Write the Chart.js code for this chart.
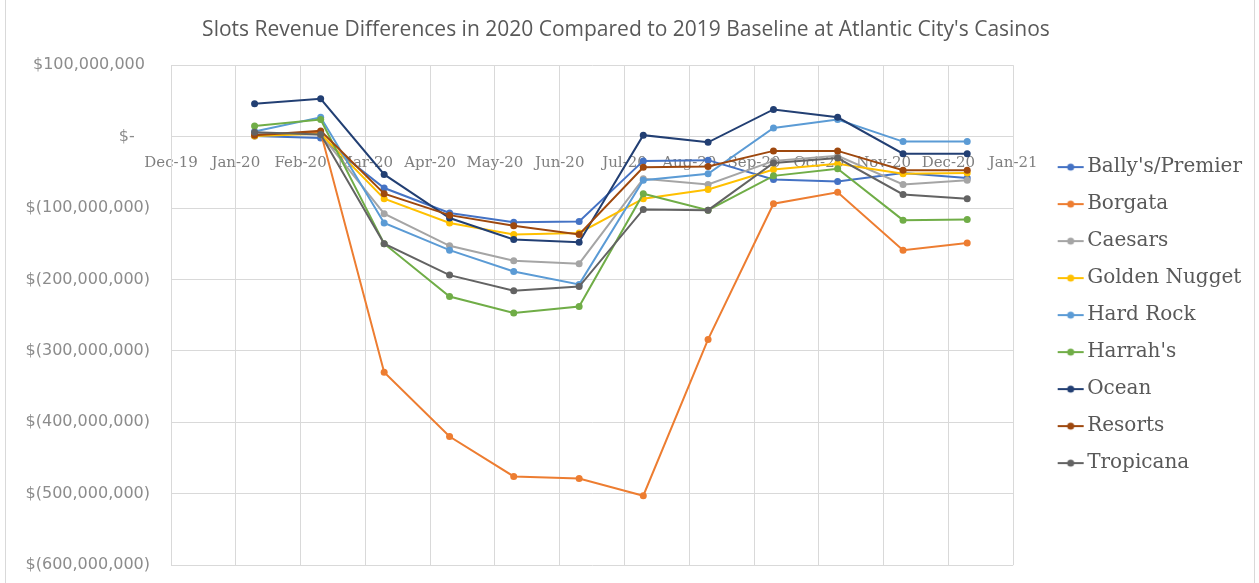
<!DOCTYPE html>
<html>
<head>
<meta charset="utf-8">
<title>Slots Revenue Differences 2020 vs 2019</title>
<script src="https://cdn.jsdelivr.net/npm/chart.js@4/dist/chart.umd.min.js"></script>
<style>
  html, body { margin: 0; padding: 0; background: #fff; overflow: hidden; }
  .wrap { position: relative; width: 1259px; height: 583px; }
  .frame { position: absolute; left: 5px; top: -1px; width: 1250px; height: 585px; border: 1px solid #d9d9d9; box-sizing: border-box; pointer-events: none; }
</style>
</head>
<body>
<div class="wrap">
  <canvas id="chart" width="1259" height="583"></canvas>
  <div class="frame"></div>
</div>
<script>
/* ============================================================
 * Slots revenue differences, 2020 vs 2019 baseline
 * ============================================================ */

// x axis month ticks (Dec-19 .. Jan-21)
const monthLabels = ['Dec-19', 'Jan-20', 'Feb-20', 'Mar-20', 'Apr-20', 'May-20', 'Jun-20',
                     'Jul-20', 'Aug-20', 'Sep-20', 'Oct-20', 'Nov-20', 'Dec-20', 'Jan-21'];
const pointDates = ['2020-01-10', '2020-02-10', '2020-03-10', '2020-04-10', '2020-05-10', '2020-06-10',
                    '2020-07-10', '2020-08-10', '2020-09-10', '2020-10-10', '2020-11-10', '2020-12-10'];

// values in $ millions
const ballys       = [1, -2, -72, -107, -120, -119, -34, -33, -60, -63, -51, -58];
const borgata      = [2, 6, -330, -420, -476, -479, -503, -284, -94, -78, -159, -149];
const caesars      = [5, 3, -108, -153, -174, -178, -59, -67, -34, -27, -67, -61];
const goldenNugget = [1, 4, -87, -121, -137, -135, -87, -74, -46, -38, -52, -51];
const hardRock     = [7, 27, -121, -159, -189, -207, -61, -52, 12, 24, -7, -7];
const harrahs      = [15, 24, -150, -224, -247, -238, -80, -103, -55, -45, -117, -116];
const ocean        = [46, 53, -53, -114, -144, -148, 2, -8, 38, 27, -24, -24];
const resorts      = [2, 8, -80, -110, -125, -137, -43, -42, -20, -20, -47, -47];
const tropicana    = [6, 3, -150, -194, -216, -210, -102, -103, -37, -30, -81, -87];

const seriesNames = ["Bally's/Premier", 'Borgata', 'Caesars', 'Golden Nugget', 'Hard Rock',
                     "Harrah's", 'Ocean', 'Resorts', 'Tropicana'];
const seriesValues = [ballys, borgata, caesars, goldenNugget, hardRock, harrahs, ocean, resorts, tropicana];
const seriesColors = ['#4472C4', '#ED7D31', '#A5A5A5', '#FFC000', '#5B9BD5',
                      '#70AD47', '#223F73', '#9E480E', '#636363'];

const yTicks = { min: -600, max: 100, step: 100 };

// months since 1 Dec 2019, fractional by day
function monthPos(iso) {
  const [y, m, d] = iso.split('-').map(Number);
  const days = new Date(y, m, 0).getDate();
  return (y - 2019) * 12 + (m - 12) + (d - 1) / days;
}

function money(v) {
  if (v === 0) return '$-   ';
  const s = Math.abs(v * 1e6).toLocaleString('en-US');
  return v < 0 ? '$(' + s + ')' : '$' + s + ' ';
}

// legend marker: short line with a dot, offset inside a wider transparent canvas
function legendMarker(color) {
  const c = document.createElement('canvas');
  c.width = 66; c.height = 12;
  const g = c.getContext('2d');
  g.strokeStyle = color; g.lineWidth = 2;
  g.beginPath(); g.moveTo(37, 6); g.lineTo(63, 6); g.stroke();
  g.fillStyle = color;
  g.beginPath(); g.arc(50, 6, 3.5, 0, Math.PI * 2); g.fill();
  return c;
}

const xs = pointDates.map(monthPos);
const datasets = seriesNames.map((name, i) => ({
  label: name,
  data: seriesValues[i].map((v, j) => ({ x: xs[j], y: v })),
  borderColor: seriesColors[i],
  backgroundColor: seriesColors[i],
  borderWidth: 2,
  pointRadius: 3.5,
  pointBorderWidth: 0,
  tension: 0,
  order: seriesNames.length - i
}));

const gridColor = '#d9d9d9';
const textGray = '#595959';

new Chart(document.getElementById('chart'), {
  type: 'line',
  data: { datasets },
  options: {
    responsive: false,
    animation: false,
    devicePixelRatio: 1,
    layout: { padding: { left: 0, right: 7, top: 0, bottom: 18 } },
    plugins: {
      title: {
        display: true,
        text: "Slots Revenue Differences in 2020 Compared to 2019 Baseline at Atlantic City's Casinos",
        color: textGray,
        font: { family: 'Open Sans', size: 21, weight: 'normal' },
        padding: { top: 17, bottom: 23 }
      },
      legend: {
        position: 'right',
        fullSize: false,
        labels: {
          usePointStyle: true,
          pointStyleWidth: 47,
          padding: 17,
          color: textGray,
          font: { family: 'DejaVu Serif', size: 20 },
          generateLabels: chart => chart.data.datasets.map((ds, i) => ({
            text: ds.label,
            fontColor: textGray,
            pointStyle: legendMarker(ds.borderColor),
            fillStyle: ds.borderColor,
            strokeStyle: ds.borderColor,
            lineWidth: 0,
            hidden: !chart.isDatasetVisible(i),
            datasetIndex: i
          }))
        }
      },
      tooltip: { enabled: false }
    },
    scales: {
      x: {
        type: 'linear',
        position: { y: 0 },
        min: 0,
        max: monthLabels.length - 1,
        grid: { color: gridColor, drawTicks: false },
        border: { color: gridColor },
        ticks: {
          stepSize: 1,
          autoSkip: false,
          maxRotation: 0,
          padding: 18,
          color: '#7f7f7f',
          font: { family: 'DejaVu Serif', size: 15 },
          callback: v => monthLabels[v]
        }
      },
      y: {
        min: yTicks.min,
        max: yTicks.max,
        grid: { color: gridColor, drawTicks: false },
        border: { color: gridColor },
        // fixed axis width; keep the tick padding from pushing the plot bottom up
        afterFit: scale => { scale.width = 171; scale.paddingBottom = 10; },
        ticks: {
          stepSize: yTicks.step,
          padding: 21,
          color: '#8c8c8c',
          font: { family: 'DejaVu Sans', size: 16 },
          callback: v => money(v)
        }
      }
    }
  }
});
</script>
</body>
</html>
